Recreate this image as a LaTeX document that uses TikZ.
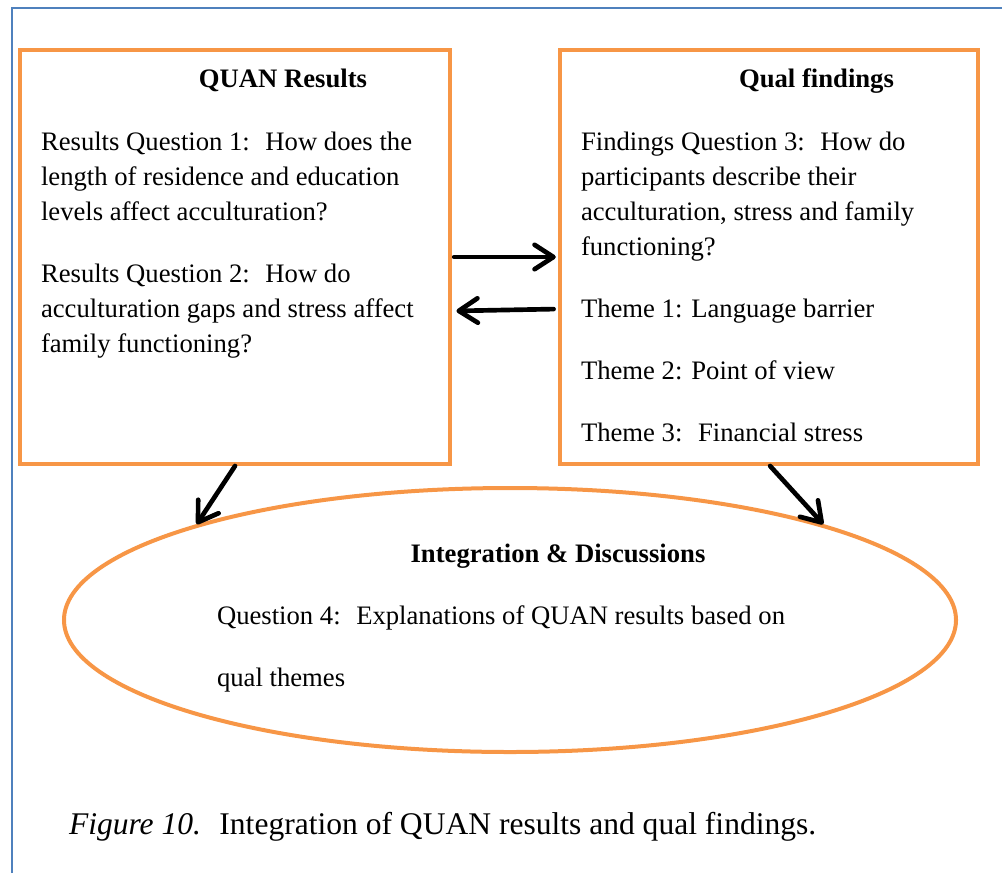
\documentclass[tikz,border=0pt]{standalone}
\usepackage{fontspec}
\setmainfont{Liberation Serif}
\usetikzlibrary{arrows.meta,shapes.geometric,positioning}
\definecolor{boxorange}{RGB}{247,150,70}
\definecolor{frameblue}{RGB}{79,129,189}

\begin{document}
\begin{tikzpicture}[x=0.45pt,y=-0.45pt,line width=1.8pt]
  \tikzstyle{result box} = [draw=boxorange,rectangle,minimum height=186.3pt]
  \tikzstyle{box text} = [anchor=north west,inner sep=0pt,align=left,font=\fontsize{12}{15.75}\selectfont]
  \tikzstyle{box title} = [anchor=base,inner sep=0pt,font=\fontsize{12}{15.75}\selectfont\bfseries]
  \tikzstyle{link} = [-{Straight Barb[length=8.5pt,width=11pt,round]},line width=2.1pt,line cap=round,black]
  \useasboundingbox (0,0) rectangle (1002,873);
  \draw[frameblue,line width=0.7pt] (12,873) -- (12,8) -- (1002,8);

  \node [result box,minimum width=193.5pt] (quan) at (235,257) {};
  \node [box title] (quan title) at (283,87) {QUAN Results};
  \node [box text] (quan text) at (39,123.5) {\strut Results Question 1:~ How does the\\
    length of residence and education\\
    levels affect acculturation?\\[12.15pt]
    Results Question 2:~ How do\\
    acculturation gaps and stress affect\\
    family functioning?};

  \node [result box,minimum width=188.1pt] (qual) at (769,257) {};
  \node [box title] (qual title) at (816.5,87) {Qual findings};
  \node [box text] (qual text) at (579,123.5) {\strut Findings Question 3:~ How do\\
    participants describe their\\
    acculturation, stress and family\\
    functioning?\\[12.15pt]
    Theme 1: Language barrier\\[12.15pt]
    Theme 2: Point of view\\[12.15pt]
    Theme 3:~ Financial stress};

  \node [draw=boxorange,ellipse,inner sep=0pt,minimum width=401.4pt,minimum height=118.8pt] (integ) at (510,620) {};
  \node [box title] (integ title) at (558,562) {Integration \& Discussions};
  \node [box text] (integ text) at (215,597.5) {\strut Question 4:~ Explanations of QUAN results based on\\[12.15pt]
    qual themes};

  \node [anchor=base west,inner sep=0pt,font=\fontsize{14.2}{17}\selectfont] (caption) at (67,834)
    {\textit{Figure 10.}~ Integration of QUAN results and qual findings.};

  \draw[link,shorten <=1pt,shorten >=1pt] (quan.east) -- (qual.west);
  \draw[link,shorten <=2pt,shorten >=2pt] ([yshift=-23.4pt]qual.west) -- ([yshift=-24.3pt]quan.east);
  \draw[link] (quan.south) -- (integ.163);
  \draw[link] ([xshift=0.5pt]qual.south) -- (integ.17);
\end{tikzpicture}
\end{document}
